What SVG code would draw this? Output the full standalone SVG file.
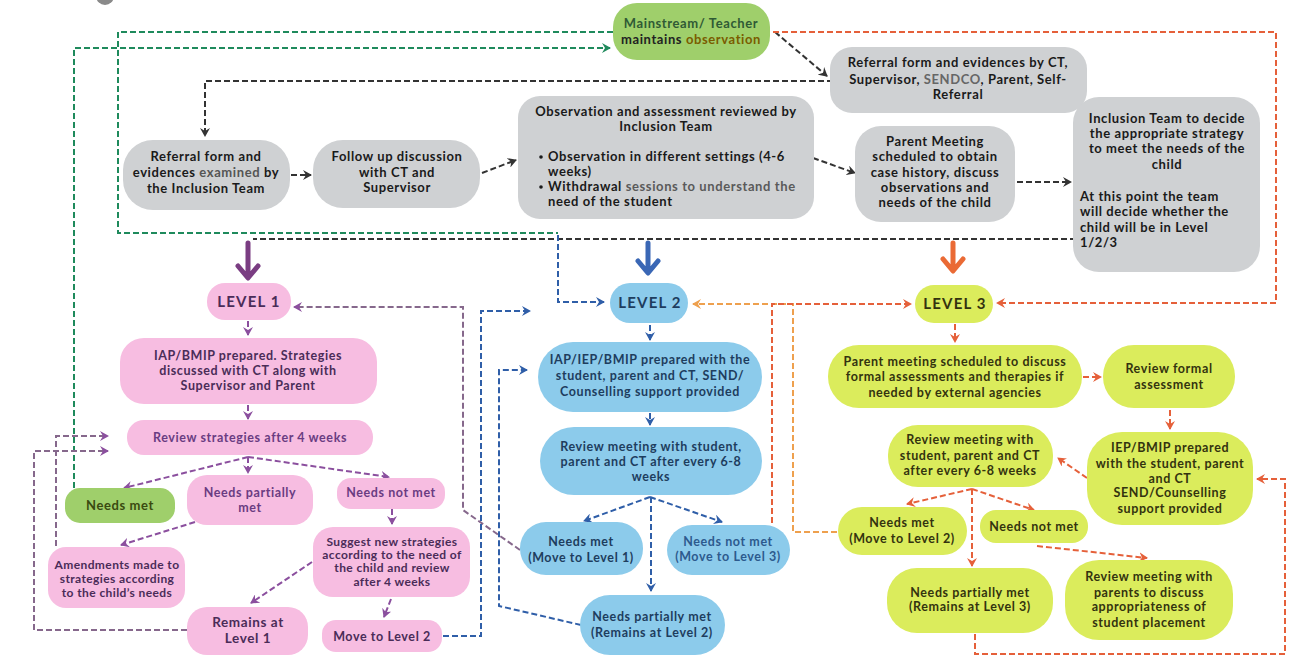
<svg xmlns="http://www.w3.org/2000/svg" width="1290" height="659" viewBox="0 0 1290 659">
<style>
text{font-family:Lato,"Liberation Sans",sans-serif;font-weight:700;font-size:12.5px;text-anchor:middle;letter-spacing:0.6px}
.gy{fill:#cfd1d3}.pk{fill:#f7bde1}.bl{fill:#8ccbeb}.yl{fill:#dbec5c}.gr{fill:#9fcf6b}
.tk{fill:#1a1a1a;font-size:13px}.tp{fill:#4a2c58}.tpv{fill:#6a3c82}.tb{fill:#1e3d5e}.ty{fill:#33330f}.tg{fill:#3a4a10;font-size:13px}
.lv{font-size:15px;letter-spacing:1.2px}
.st{text-anchor:start}
.c{fill:none;stroke-width:2;stroke-dasharray:6 3}
.k{stroke:#333}.g{stroke:#1f8a5c}.b{stroke:#2f5ea8}.p{stroke:#8b4f9e}.pg{stroke:#86688c}.r{stroke:#e5603a}.o{stroke:#eea04e}
.big{fill:none;stroke-width:5;stroke-linecap:round;stroke-linejoin:round}
</style>
<defs>
<marker id="ak" markerUnits="userSpaceOnUse" markerWidth="10" markerHeight="10" refX="8" refY="5" orient="auto"><path d="M0,0 L9,5 L0,10 L3,5 Z" fill="#333"/></marker>
<marker id="ag" markerUnits="userSpaceOnUse" markerWidth="10" markerHeight="10" refX="8" refY="5" orient="auto"><path d="M0,0 L9,5 L0,10 L3,5 Z" fill="#1f8a5c"/></marker>
<marker id="ab" markerUnits="userSpaceOnUse" markerWidth="10" markerHeight="10" refX="8" refY="5" orient="auto"><path d="M0,0 L9,5 L0,10 L3,5 Z" fill="#2f5ea8"/></marker>
<marker id="ap" markerUnits="userSpaceOnUse" markerWidth="10" markerHeight="10" refX="8" refY="5" orient="auto"><path d="M0,0 L9,5 L0,10 L3,5 Z" fill="#8b4f9e"/></marker>
<marker id="ar" markerUnits="userSpaceOnUse" markerWidth="10" markerHeight="10" refX="8" refY="5" orient="auto"><path d="M0,0 L9,5 L0,10 L3,5 Z" fill="#e5603a"/></marker>
<marker id="ao" markerUnits="userSpaceOnUse" markerWidth="10" markerHeight="10" refX="8" refY="5" orient="auto"><path d="M0,0 L9,5 L0,10 L3,5 Z" fill="#eea04e"/></marker>
</defs>
<rect width="1290" height="659" fill="#fff"/>
<circle cx="105" cy="-4" r="9" fill="#8a8a8a"/>

<g id="connectors">
<path class="c g" d="M613,32 H118 V233 H558"/>
<path class="c g" d="M74,488 V48 H610" marker-end="url(#ag)"/>
<path class="c k" d="M775,32 L827,76" marker-end="url(#ak)"/>
<path class="c k" d="M833,81 H205 V136" marker-end="url(#ak)"/>
<path class="c k" d="M291,175 H311" marker-end="url(#ak)"/>
<path class="c k" d="M482,173 L516,160" marker-end="url(#ak)"/>
<path class="c k" d="M813,158 L855,173" marker-end="url(#ak)"/>
<path class="c k" d="M1017,182 H1071" marker-end="url(#ak)"/>
<path class="c k" d="M1076,239 H253"/>
<path class="big" stroke="#7a3d82" d="M248,243 V277 M238,266 L248,278 L258,266"/>
<path class="big" stroke="#3a67b5" d="M648,243 V272 M638,261 L648,273 L658,261"/>
<path class="big" stroke="#ea6a35" d="M953,243 V270 M943,259 L953,271 L963,259"/>
<path class="c r" d="M773,32 H1276 V303 H997" marker-end="url(#ar)"/>
<path class="c o" d="M837,532 H793 V304 H693" marker-end="url(#ao)"/>
<path class="c r" d="M772,523 V304 H911" marker-end="url(#ar)"/>
<path class="c r" d="M955,324 V342" marker-end="url(#ar)"/>
<path class="c r" d="M1083,377 H1101" marker-end="url(#ar)"/>
<path class="c r" d="M1170,410 V429" marker-end="url(#ar)"/>
<path class="c r" d="M1087,478 L1058,458" marker-end="url(#ar)"/>
<path class="c r" d="M972,489 L907,504" marker-end="url(#ar)"/>
<path class="c r" d="M972,489 L1034,510" marker-end="url(#ar)"/>
<path class="c r" d="M972,489 V566" marker-end="url(#ar)"/>
<path class="c r" d="M1037,546 L1147,558" marker-end="url(#ar)"/>
<path class="c r" d="M975,634 V654 H1285 V479 H1257" marker-end="url(#ar)"/>
<path class="c p" d="M248,321 V335" marker-end="url(#ap)"/>
<path class="c p" d="M248,405 V419" marker-end="url(#ap)"/>
<path class="c p" d="M248,457 L124,488" marker-end="url(#ap)"/>
<path class="c p" d="M248,457 V473" marker-end="url(#ap)"/>
<path class="c p" d="M248,457 L389,477" marker-end="url(#ap)"/>
<path class="c p" d="M195,522 L121,545" marker-end="url(#ap)"/>
<path class="c p" d="M392,509 V524" marker-end="url(#ap)"/>
<path class="c p" d="M312,562 L251,603" marker-end="url(#ap)"/>
<path class="c p" d="M391,599 L384,617" marker-end="url(#ap)"/>
<path class="c pg" d="M56,546 V436 H108" marker-end="url(#ap)"/>
<path class="c pg" d="M187,630 H34 V451 H108" marker-end="url(#ap)"/>
<path class="c pg" d="M520,550 L463,510 V307 H294" marker-end="url(#ap)"/>
<path class="c b" d="M558,235 V302 H604" marker-end="url(#ab)"/>
<path class="c b" d="M650,325 V340" marker-end="url(#ab)"/>
<path class="c b" d="M650,413 V425" marker-end="url(#ab)"/>
<path class="c b" d="M650,497 L584,521" marker-end="url(#ab)"/>
<path class="c b" d="M650,497 L722,522" marker-end="url(#ab)"/>
<path class="c b" d="M651,497 V591" marker-end="url(#ab)"/>
<path class="c b" d="M443,636 H481 V311 H530" marker-end="url(#ab)"/>
<path class="c b" d="M581,625 L499,606 V370 H527" marker-end="url(#ab)"/>
</g>

<g id="mainstream"><rect class="gr" x="613" y="3" width="157" height="57" rx="24"/>
<text x="691" y="28" style="font-size:13px" fill="#2f5a35">Mainstream/ Teacher</text>
<text x="691" y="44" style="font-size:13px" fill="#222">maintains <tspan fill="#7a5c00">observation</tspan></text></g>

<g id="referral-ct"><rect class="gy" x="830" y="47" width="257" height="66" rx="22"/>
<text class="tk" x="958" y="67">Referral form and evidences by CT,</text>
<text class="tk" x="958" y="84">Supervisor, <tspan fill="#666">SENDCO</tspan>, Parent, Self-</text>
<text class="tk" x="958" y="99">Referral</text></g>

<g id="referral-examined"><rect class="gy" x="123" y="140" width="167" height="70" rx="30"/>
<text class="tk" x="206" y="161">Referral form and</text>
<text class="tk" x="206" y="177">evidences <tspan fill="#555">examined</tspan> by</text>
<text class="tk" x="206" y="193">the Inclusion Team</text></g>

<g id="follow-up"><rect class="gy" x="313" y="140" width="167" height="68" rx="30"/>
<text class="tk" x="397" y="161">Follow up discussion</text>
<text class="tk" x="397" y="177">with CT and</text>
<text class="tk" x="397" y="192">Supervisor</text></g>

<g id="observation"><rect class="gy" x="518" y="96" width="296" height="123" rx="22"/>
<text class="tk" x="666" y="116">Observation and assessment reviewed by</text>
<text class="tk" x="666" y="131">Inclusion Team</text>
<circle cx="541" cy="157" r="1.8" fill="#1a1a1a"/>
<text class="tk st" x="548" y="161">Observation in different settings (4-6</text>
<text class="tk st" x="548" y="176">weeks)</text>
<circle cx="541" cy="187" r="1.8" fill="#1a1a1a"/>
<text class="tk st" x="548" y="191">Withdrawal <tspan fill="#5a5a5a">sessions to understand the</tspan></text>
<text class="tk st" x="548" y="206">need of the student</text></g>

<g id="parent-meeting"><rect class="gy" x="855" y="126" width="160" height="96" rx="26"/>
<text class="tk" x="935" y="146">Parent Meeting</text>
<text class="tk" x="935" y="161">scheduled to obtain</text>
<text class="tk" x="935" y="177">case history, discuss</text>
<text class="tk" x="935" y="192">observations and</text>
<text class="tk" x="935" y="207">needs of the child</text></g>

<g id="inclusion-team"><rect class="gy" x="1073" y="97" width="187" height="175" rx="26"/>
<text class="tk" x="1167" y="123">Inclusion Team to decide</text>
<text class="tk" x="1167" y="138">the appropriate strategy</text>
<text class="tk" x="1167" y="153">to meet the needs of the</text>
<text class="tk" x="1167" y="169">child</text>
<text class="tk st" x="1080" y="201">At this point the team</text>
<text class="tk st" x="1080" y="216">will decide whether the</text>
<text class="tk st" x="1080" y="232">child will be in Level</text>
<text class="tk st" x="1080" y="247">1/2/3</text></g>

<g id="level1"><rect class="pk" x="207" y="283" width="84" height="37" rx="18"/>
<text class="tp lv" x="249" y="307">LEVEL 1</text></g>
<g id="l1-iap"><rect class="pk" x="120" y="338" width="257" height="66" rx="24"/>
<text class="tp" x="248" y="360">IAP/BMIP prepared. Strategies</text>
<text class="tp" x="248" y="375">discussed with CT along with</text>
<text class="tp" x="248" y="390">Supervisor and Parent</text></g>
<g id="l1-review"><rect class="pk" x="127" y="420" width="246" height="35" rx="17"/>
<text class="tpv" x="250" y="442">Review strategies after 4 weeks</text></g>
<g id="l1-needs-met"><rect class="gr" x="65" y="488" width="110" height="35" rx="15"/>
<text class="tg" x="120" y="510">Needs met</text></g>
<g id="l1-partial"><rect class="pk" x="187" y="475" width="126" height="50" rx="20"/>
<text class="tpv" x="250" y="497">Needs partially</text>
<text class="tpv" x="250" y="512">met</text></g>
<g id="l1-not-met"><rect class="pk" x="337" y="478" width="108" height="31" rx="14"/>
<text class="tpv" x="391" y="497">Needs not met</text></g>
<g id="l1-amend"><rect class="pk" x="48" y="547" width="137" height="61" rx="18"/>
<text class="tp" x="117" y="569" style="font-size:12px;letter-spacing:0.4px">Amendments made to</text>
<text class="tp" x="117" y="583" style="font-size:12px;letter-spacing:0.4px">strategies according</text>
<text class="tp" x="117" y="597" style="font-size:12px;letter-spacing:0.4px">to the child’s needs</text></g>
<g id="l1-suggest"><rect class="pk" x="313" y="527" width="157" height="70" rx="20"/>
<text class="tp" x="392" y="546" style="font-size:12px;letter-spacing:0.4px">Suggest new strategies</text>
<text class="tp" x="392" y="559" style="font-size:12px;letter-spacing:0.4px">according to the need of</text>
<text class="tp" x="392" y="572" style="font-size:12px;letter-spacing:0.4px">the child and review</text>
<text class="tp" x="392" y="586" style="font-size:12px;letter-spacing:0.4px">after 4 weeks</text></g>
<g id="l1-remains"><rect class="pk" x="187" y="607" width="121" height="48" rx="20"/>
<text class="tp" x="248" y="627" style="font-size:13.5px">Remains at</text>
<text class="tp" x="248" y="643" style="font-size:13.5px">Level 1</text></g>
<g id="l1-move2"><rect class="pk" x="322" y="620" width="120" height="32" rx="14"/>
<text class="tp" x="382" y="641">Move to Level 2</text></g>

<g id="level2"><rect class="bl" x="610" y="283" width="78" height="40" rx="20"/>
<text class="tb lv" x="650" y="308">LEVEL 2</text></g>
<g id="l2-iap"><rect class="bl" x="538" y="342" width="224" height="70" rx="35"/>
<text class="tb" x="650" y="364">IAP/IEP/BMIP prepared with the</text>
<text class="tb" x="650" y="380">student, parent and CT, SEND/</text>
<text class="tb" x="650" y="396">Counselling support provided</text></g>
<g id="l2-review"><rect class="bl" x="540" y="427" width="222" height="68" rx="34"/>
<text class="tb" x="651" y="451">Review meeting with student,</text>
<text class="tb" x="651" y="466">parent and CT after every 6-8</text>
<text class="tb" x="651" y="481">weeks</text></g>
<g id="l2-met"><rect class="bl" x="520" y="522" width="123" height="53" rx="26"/>
<text class="tb" x="581" y="546">Needs met</text>
<text class="tb" x="581" y="562">(Move to Level 1)</text></g>
<g id="l2-not-met"><rect class="bl" x="667" y="525" width="123" height="50" rx="25"/>
<text class="tb" x="728" y="546" style="fill:#2d5a8e">Needs not met</text>
<text class="tb" x="728" y="561" style="fill:#2d5a8e">(Move to Level 3)</text></g>
<g id="l2-partial"><rect class="bl" x="580" y="595" width="145" height="60" rx="30"/>
<text class="tb" x="652" y="621">Needs partially met</text>
<text class="tb" x="652" y="637">(Remains at Level 2)</text></g>

<g id="level3"><rect class="yl" x="915" y="285" width="78" height="38" rx="19"/>
<text class="ty lv" x="955" y="309">LEVEL 3</text></g>
<g id="l3-parent"><rect class="yl" x="828" y="345" width="254" height="63" rx="31"/>
<text class="ty" x="955" y="366">Parent meeting scheduled to discuss</text>
<text class="ty" x="955" y="381">formal assessments and therapies if</text>
<text class="ty" x="955" y="397">needed by external agencies</text></g>
<g id="l3-formal"><rect class="yl" x="1103" y="345" width="132" height="63" rx="31"/>
<text class="ty" x="1169" y="373">Review formal</text>
<text class="ty" x="1169" y="389">assessment</text></g>
<g id="l3-iep"><rect class="yl" x="1087" y="432" width="166" height="93" rx="35"/>
<text class="ty" x="1170" y="452">IEP/BMIP prepared</text>
<text class="ty" x="1170" y="468">with the student, parent</text>
<text class="ty" x="1170" y="483">and CT</text>
<text class="ty" x="1170" y="497">SEND/Counselling</text>
<text class="ty" x="1170" y="513">support provided</text></g>
<g id="l3-review"><rect class="yl" x="888" y="425" width="165" height="62" rx="30"/>
<text class="ty" x="970" y="444">Review meeting with</text>
<text class="ty" x="970" y="460">student, parent and CT</text>
<text class="ty" x="970" y="475">after every 6-8 weeks</text></g>
<g id="l3-met"><rect class="yl" x="838" y="507" width="129" height="48" rx="24"/>
<text class="ty" x="902" y="527">Needs met</text>
<text class="ty" x="902" y="543">(Move to Level 2)</text></g>
<g id="l3-not-met"><rect class="yl" x="980" y="510" width="108" height="33" rx="16"/>
<text class="ty" x="1034" y="531">Needs not met</text></g>
<g id="l3-partial"><rect class="yl" x="887" y="568" width="166" height="65" rx="30"/>
<text class="ty" x="970" y="597">Needs partially met</text>
<text class="ty" x="970" y="611">(Remains at Level 3)</text></g>
<g id="l3-placement"><rect class="yl" x="1065" y="560" width="168" height="80" rx="34"/>
<text class="ty" x="1149" y="581">Review meeting with</text>
<text class="ty" x="1149" y="597">parents to discuss</text>
<text class="ty" x="1149" y="611">appropriateness of</text>
<text class="ty" x="1149" y="627">student placement</text></g>
</svg>
